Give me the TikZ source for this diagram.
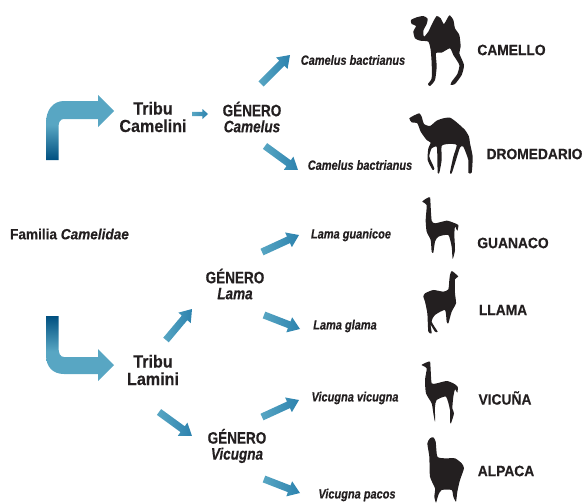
\documentclass[tikz,border=0pt]{standalone}
\usepackage{fontspec}
\setmainfont{Liberation Sans}
\newfontfamily\widefont[FakeStretch=0.92,FakeBold=0.3]{Liberation Sans}
\newfontfamily\narrowfont[FakeStretch=0.82,FakeBold=0.3]{Liberation Sans}
\usetikzlibrary{calc,shapes.arrows}
\definecolor{cink}{RGB}{35,31,32}
\definecolor{clight}{RGB}{88,166,195}
\definecolor{ctip}{RGB}{44,130,174}
\definecolor{cdeep}{RGB}{0,80,128}
\pgfdeclareverticalshading{bentup}{100bp}{color(0bp)=(cdeep); color(25bp)=(cdeep); color(52bp)=(clight); color(100bp)=(clight)}
\pgfdeclareverticalshading{bentdown}{100bp}{color(0bp)=(clight); color(48bp)=(clight); color(75bp)=(cdeep); color(100bp)=(cdeep)}
\tikzset{
  arrowbase/.style={single arrow,anchor=tail,inner sep=0pt,outer sep=0pt,minimum width=0pt,left color=clight,right color=ctip},
  bigarrow/.style={arrowbase,inner ysep=3.4pt,single arrow head extend=4.5pt,single arrow tip angle=70},
  tinyarrow/.style={arrowbase,inner ysep=2pt,single arrow head extend=2.8pt,single arrow tip angle=84},
  tribulabel/.style={align=center,text=cink,inner sep=0pt,font=\fontsize{17.5}{17.5}\selectfont\widefont\bfseries},
  generolabel/.style={align=center,text=cink,inner sep=0pt,font=\fontsize{16.5}{16}\selectfont\narrowfont\bfseries},
  familylabel/.style={text=cink,inner sep=0pt,font=\fontsize{14.8}{16}\selectfont\widefont\bfseries},
  specieslabel/.style={text=cink,inner sep=0pt,font=\fontsize{13.4}{15}\selectfont\narrowfont\bfseries\itshape},
  animallabel/.style={text=cink,inner sep=0pt,font=\fontsize{15}{16}\selectfont\widefont\bfseries},
  animal/.style={fill=cink,x=0.3333pt,y=-0.3333pt}
}
% arrow between two nodes, with offsets from their centres
\newcommand{\blockarrow}[7]{%
  \path ($(#4.center)+(#5,#6)-(#1.center)-(#2,#3)$);
  \pgfgetlastxy{\arrowdx}{\arrowdy}
  \pgfmathsetmacro{\arrowang}{atan2(\arrowdy,\arrowdx)}
  \pgfmathsetmacro{\arrowlen}{veclen(\arrowdx,\arrowdy)}
  \node (#1-#4) [#7,minimum height=\arrowlen pt,rotate=\arrowang] at ($(#1.center)+(#2,#3)$) {};}

\begin{document}
\begin{tikzpicture}[x=1pt,y=-1pt]
    \useasboundingbox (0,0) rectangle (585,503);
    % bent arrows
    \shade[shading=bentup] (46,160) -- (46,123) .. controls (46,110) and (53,101) .. (64,101) -- (98,101) -- (98,95)
      -- (114,111) -- (98,127) -- (98,119) -- (64,119) .. controls (60,119) and (58.5,122) .. (58.5,128) -- (58.5,160) -- cycle;
    \shade[shading=bentdown] (46,316) -- (46,355) .. controls (46,367) and (53,374) .. (64,374) -- (98,374) -- (98,381)
      -- (114,365) -- (98,349) -- (98,357) -- (64,357) .. controls (60,357) and (58.5,353) .. (58.5,347) -- (58.5,316) -- cycle;
    % labels
    \node[familylabel] (familia) at (69.5,234) {Familia \textit{Camelidae}};
    \node[tribulabel] (tcam) at (153,117) {Tribu\\Camelini};
    \node[tribulabel] (tlam) at (153,370) {Tribu\\Lamini};
    \node[generolabel] (gcam) at (252,117) {GÉNERO\\\textit{Camelus}};
    \node[generolabel] (glam) at (235,284) {GÉNERO\\\textit{Lama}};
    \node[generolabel] (gvic) at (237,446) {GÉNERO\\\textit{Vicugna}};
    \node[specieslabel] (sbac) at (353,60) {Camelus bactrianus};
    \node[specieslabel] (sdro) at (360,165) {Camelus bactrianus};
    \node[specieslabel] (sgua) at (351,235) {Lama guanicoe};
    \node[specieslabel] (sgla) at (345,326) {Lama glama};
    \node[specieslabel] (svic) at (355,398) {Vicugna vicugna};
    \node[specieslabel] (spac) at (357,495) {Vicugna pacos};
    \node[animallabel] (camello) at (511.5,50) {CAMELLO};
    \node[animallabel] (dromedario) at (534.5,154) {DROMEDARIO};
    \node[animallabel] (guanaco) at (513,243) {GUANACO};
    \node[animallabel] (llama) at (503,310) {LLAMA};
    \node[animallabel] (vicuna) at (505,398) {VICUÑA};
    \node[animallabel] (alpaca) at (506,471) {ALPACA};
    % small block arrows
    \blockarrow{tcam}{39}{-3}{gcam}{-44}{-3}{tinyarrow}
    \foreach \from/\fx/\fy/\to/\tx/\ty in {
        gcam/9/-33/sbac/-63/-5, gcam/13/29/sdro/-62/5,
        tlam/13/-30/glam/-43/25, tlam/6/42/gvic/-45/-10,
        glam/27/-32/sgua/-52/0, glam/29/31/sgla/-45/3,
        gvic/25/-29/svic/-56/2, gvic/27/33/spac/-57/-2}
      {\blockarrow{\from}{\fx}{\fy}{\to}{\tx}{\ty}{bigarrow}}
    % silhouettes, traced
    \begin{scope}[shift={(400,0)}]
      \fill[animal] plot[smooth cycle,tension=0.35] coordinates {(33,60) (50,52) (70,48) (83,56) (80,72) (70,92) (72,110) (85,95) (97,70) (110,48) (122,55) (132,72) (148,46) (160,60) (165,85) (178,105) (182,140) (178,160) (192,195) (185,225) (165,252) (152,255) (155,245) (172,222) (178,195) (160,165) (150,145) (125,158) (108,160) (110,200) (105,240) (90,258) (84,252) (95,235) (95,190) (92,150) (85,125) (60,122) (45,115) (40,95) (48,78) (35,72)};
      \fill[animal] plot[smooth cycle,tension=0.35] coordinates {(28,355) (45,345) (58,340) (65,350) (72,372) (90,378) (110,362) (130,355) (150,353) (170,367) (195,390) (207,410) (210,430) (218,470) (215,518) (205,518) (205,480) (190,440) (180,443) (165,490) (155,520) (150,518) (160,470) (170,435) (145,432) (125,438) (125,480) (118,518) (113,518) (112,470) (110,440) (95,445) (88,470) (103,505) (98,510) (83,480) (85,445) (92,428) (80,420) (62,395) (52,370) (35,367)};
    \end{scope}
    \begin{scope}[shift={(400,190)}]
      \fill[animal] plot[smooth cycle,tension=0.35] coordinates {(67,35) (80,25) (90,22) (92,50) (95,92) (105,100) (140,92) (160,98) (175,105) (172,122) (165,110) (163,135) (165,180) (158,207) (155,170) (145,135) (115,140) (105,155) (100,188) (95,185) (92,150) (80,125) (77,90) (80,45)};
      \fill[animal] plot[smooth cycle,tension=0.35] coordinates {(150,255) (155,243) (165,250) (175,260) (165,268) (165,310) (168,340) (155,365) (145,400) (140,395) (135,360) (105,375) (95,395) (113,425) (105,425) (92,405) (95,430) (85,425) (82,370) (75,335) (70,320) (75,310) (100,300) (130,305) (145,298) (148,270)};
    \end{scope}
    \begin{scope}[shift={(400,350)}]
      \fill[animal] plot[smooth cycle,tension=0.35] coordinates {(65,45) (80,37) (90,35) (92,60) (95,100) (110,100) (140,93) (160,100) (173,110) (172,128) (165,118) (160,140) (157,175) (162,190) (153,220) (150,215) (150,180) (138,140) (110,150) (105,170) (105,215) (100,190) (95,160) (78,130) (75,90) (80,55)};
      \fill[animal] plot[smooth cycle,tension=0.35] coordinates {(82,280) (90,265) (100,262) (107,275) (112,320) (135,325) (165,325) (185,340) (192,355) (180,390) (172,425) (168,455) (160,440) (155,420) (125,420) (115,435) (108,458) (103,440) (105,415) (90,380) (88,320)};
    \end{scope}
\end{tikzpicture}
\end{document}
